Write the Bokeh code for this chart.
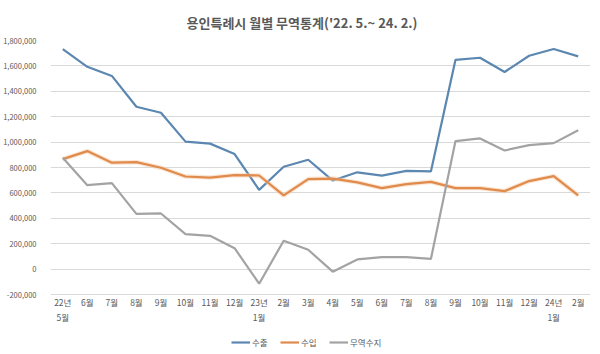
from bokeh.plotting import figure
from bokeh.models import (Range1d, FixedTicker, NumeralTickFormatter, Legend,
                          LegendItem, LinearAxis)
from bokeh.embed import file_html
from bokeh.resources import INLINE

months = ["22년\n5월", "6월", "7월", "8월", "9월", "10월", "11월", "12월",
          "23년\n1월", "2월", "3월", "4월", "5월", "6월", "7월", "8월",
          "9월", "10월", "11월", "12월", "24년\n1월", "2월"]
export = [1732000, 1593000, 1521000, 1278000, 1231000, 1004000, 988000, 906000,
          624000, 806000, 861000, 697000, 762000, 736000, 774000, 770000,
          1648000, 1664000, 1552000, 1680000, 1733000, 1675000]
imports = [866000, 929000, 838000, 842000, 798000, 729000, 721000, 740000,
           737000, 580000, 709000, 713000, 683000, 638000, 669000, 687000,
           638000, 638000, 614000, 693000, 732000, 580000]
balance = [876000, 661000, 677000, 435000, 438000, 276000, 262000, 165000,
           -115000, 223000, 152000, -20000, 76000, 94000, 94000, 81000,
           1008000, 1029000, 934000, 976000, 992000, 1094000]
y_ticks = [-200000, 0, 200000, 400000, 600000, 800000, 1000000,
           1200000, 1400000, 1600000, 1800000]

FONT = "Noto Sans CJK KR"
TXT = "#595959"

W, H = 600, 354
TOP, BOTTOM_AXIS = 40, 294          # screen rows of the top and bottom gridlines
x = list(range(len(months)))

# extend the value range below the last gridline so the frame reaches the
# bottom of the canvas (room for the category labels and the legend)
span = y_ticks[-1] - y_ticks[0]
y_low = y_ticks[-1] - span * (H - TOP) / (BOTTOM_AXIS - TOP)

p = figure(width=W, height=H, output_backend="svg", toolbar_location=None,
           x_range=Range1d(-0.5, len(months) - 0.5),
           y_range=Range1d(y_low, y_ticks[-1]),
           x_axis_location=None,
           min_border_left=47, min_border_right=10,
           min_border_top=TOP, min_border_bottom=0,
           title="용인특례시 월별 무역통계('22. 5.~ 24. 2.)")

p.title.align = "left"
p.title.text_font = FONT
p.title.text_font_size = "13px"
p.title.text_font_style = "bold"
p.title.text_color = TXT
p.title.offset = 136
p.title.standoff = 17

p.outline_line_color = None
p.xgrid.grid_line_color = None
p.ygrid.grid_line_color = "#D9D9D9"
p.ygrid.ticker = FixedTicker(ticks=y_ticks)

p.yaxis.ticker = FixedTicker(ticks=y_ticks)
p.yaxis.formatter = NumeralTickFormatter(format="0,0")
p.yaxis.axis_line_color = None
p.yaxis.major_tick_line_color = None
p.yaxis.minor_tick_line_color = None
p.yaxis.major_label_text_font = FONT
p.yaxis.major_label_text_font_size = "7.5px"
p.yaxis.major_label_text_color = TXT
p.yaxis.major_label_standoff = 8

xaxis = LinearAxis(fixed_location=y_ticks[0],
                   ticker=FixedTicker(ticks=x),
                   major_label_overrides={i: m for i, m in enumerate(months)},
                   axis_line_color=None, major_tick_line_color=None,
                   minor_tick_line_color=None,
                   major_tick_out=0, major_tick_in=0,
                   major_label_text_font=FONT,
                   major_label_text_font_size="8.5px",
                   major_label_text_line_height=1.3,
                   major_label_text_color=TXT,
                   major_label_standoff=1)
p.add_layout(xaxis, "below")

r_exp = p.line(x, export, line_color="#5B87B0", line_width=2.2)
p.line(x, imports, line_color="#F6CBA8", line_width=4.5, line_alpha=0.5)
r_imp = p.line(x, imports, line_color="#E08A4C", line_width=2.2)
r_bal = p.line(x, balance, line_color="#A3A3A3", line_width=2.2)

legend = Legend(items=[LegendItem(label="수출", renderers=[r_exp]),
                       LegendItem(label="수입", renderers=[r_imp]),
                       LegendItem(label="무역수지", renderers=[r_bal])],
                orientation="horizontal", location=(181, 6),
                label_text_font=FONT, label_text_font_size="8.5px",
                label_height=10, label_text_line_height=1.0,
                label_text_color=TXT, glyph_width=19, glyph_height=10,
                label_standoff=2, spacing=8, padding=0, margin=0,
                border_line_color=None, background_fill_alpha=0)
p.add_layout(legend, "center")

open("out.html", "w").write(file_html(p, INLINE))
